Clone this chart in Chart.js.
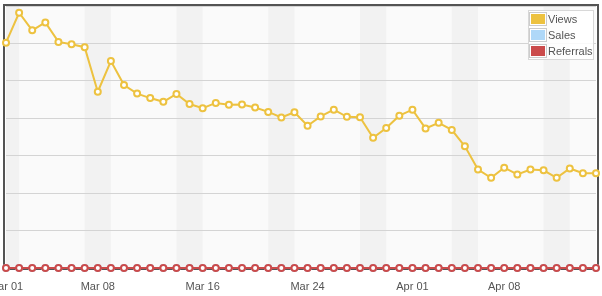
<!DOCTYPE html>
<html>
<head>
<meta charset="utf-8">
<script src="https://cdn.jsdelivr.net/npm/chart.js@4/dist/chart.umd.min.js"></script>
<style>
  html, body { margin: 0; padding: 0; background: #fff; }
  #wrap { position: relative; width: 602px; height: 296px; }
  #legend {
    position: absolute; left: 528px; top: 10px;
    border: 1px solid #d8d8d8; background: rgba(255,255,255,0.85);
    font: 11px "Liberation Sans", Arial, sans-serif; color: #545454;
    border-collapse: collapse;
  }
  #legend td { padding: 0; height: 16px; line-height: 16px; }
  .swatch { border: 1px solid #ccc; padding: 1px; width: 14px; height: 10px; margin-right: 1px; }
  .swatch div { width: 14px; height: 10px; }
</style>
</head>
<body>
<div id="wrap">
  <canvas id="chart" width="602" height="296"></canvas>
  <table id="legend"></table>
</div>
<script>
// ── Data ──────────────────────────────────────────────────────────────────
const START_DATE = "2015-03-01";
const DAY_COUNT  = 46;
const tickLabels = ["Mar 01", "Mar 08", "Mar 16", "Mar 24", "Apr 01", "Apr 08"];

const seriesNames  = ["Views", "Sales", "Referrals"];
const seriesColors = ["#edc240", "#afd8f8", "#cb4b4b"];

const views = [
  602, 682, 635, 656, 604, 598, 590, 471, 553, 489,
  466, 454, 444, 465, 438, 427, 441, 436, 437, 429,
  417, 402, 416, 380, 405, 423, 404, 403, 348, 374,
  407, 423, 373, 388, 369, 325, 263, 241, 268, 250,
  263, 261, 241, 266, 253, 253
];
const sales = [
  0, 0, 0, 0, 0, 0, 0, 0, 0, 0, 0, 0, 0, 0, 0, 0, 0, 0, 0, 0, 0, 0, 0,
  0, 0, 0, 0, 0, 0, 0, 0, 0, 0, 0, 0, 0, 0, 0, 0, 0, 0, 0, 0, 0, 0, 0
];
const referrals = [
  0, 0, 0, 0, 0, 0, 0, 0, 0, 0, 0, 0, 0, 0, 0, 0, 0, 0, 0, 0, 0, 0, 0,
  0, 0, 0, 0, 0, 0, 0, 0, 0, 0, 0, 0, 0, 0, 0, 0, 0, 0, 0, 0, 0, 0, 0
];

const Y_MAX  = 700;
const Y_STEP = 100;

// ── Day labels + weekend indices ─────────────────────────────────────────
const MONTHS = ["Jan","Feb","Mar","Apr","May","Jun","Jul","Aug","Sep","Oct","Nov","Dec"];
const days = [];
const saturdays = [];
{
  const d0 = new Date(START_DATE + "T00:00:00Z");
  for (let i = -1; i < DAY_COUNT; i++) {
    const d = new Date(d0.getTime() + i * 86400000);
    if (d.getUTCDay() === 6) saturdays.push(i);
    if (i >= 0) days.push(MONTHS[d.getUTCMonth()] + " " + String(d.getUTCDate()).padStart(2, "0"));
  }
}

// ── Legend ───────────────────────────────────────────────────────────────
document.getElementById("legend").innerHTML = seriesNames.map((n, i) => `
  <tr><td><div class="swatch"><div style="background:${seriesColors[i]}"></div></div></td>
  <td>${n}</td></tr>`).join("");

// ── Plot background, weekend bands, frame ────────────────────────────────
const plotDecor = {
  id: "plotDecor",
  beforeDraw(chart) {
    const { ctx, chartArea: ca, scales: { x } } = chart;
    ctx.save();
    ctx.fillStyle = "#fafafa";
    ctx.fillRect(ca.left, ca.top, ca.width, ca.height);
    ctx.fillStyle = "#f2f2f2";
    const step = x.getPixelForValue(1) - x.getPixelForValue(0);
    saturdays.forEach(i => {
      const x0 = Math.max(ca.left, x.getPixelForValue(0) + i * step);
      const x1 = Math.min(ca.right, x.getPixelForValue(0) + (i + 2) * step);
      if (x1 > x0) ctx.fillRect(x0, ca.top, x1 - x0, ca.height);
    });
    ctx.restore();
  },
  beforeDatasetsDraw(chart) {
    const { ctx, chartArea: ca } = chart;
    ctx.save();
    ctx.strokeStyle = "#545454";
    ctx.lineWidth = 2;
    ctx.strokeRect(ca.left - 2, ca.top - 1, ca.width + 4, ca.height + 2);
    ctx.restore();
  }
};

function lineSet(label, data, color, order) {
  return {
    label, data, order,
    borderColor: color,
    borderWidth: 2,
    pointRadius: 3,
    pointBorderWidth: 2,
    pointBackgroundColor: "#ffffff",
    pointBorderColor: color,
    tension: 0,
    clip: false
  };
}

new Chart(document.getElementById("chart"), {
  type: "line",
  data: {
    labels: days,
    datasets: [
      lineSet(seriesNames[0], views,     seriesColors[0], 2),
      lineSet(seriesNames[1], sales,     seriesColors[1], 1),
      lineSet(seriesNames[2], referrals, seriesColors[2], 0)
    ]
  },
  options: {
    responsive: false,
    animation: false,
    layout: { padding: { left: 3, right: 5, top: 5, bottom: 0 } },
    plugins: { legend: { display: false }, tooltip: { enabled: false } },
    scales: {
      x: {
        offset: false,
        grid: { display: false, drawTicks: false },
        border: { display: false },
        afterFit(scale) {
          scale.height = 28;
          scale.paddingLeft = 0;
          scale.paddingRight = 0;
        },
        ticks: {
          autoSkip: false,
          maxRotation: 0,
          padding: 12,
          color: "#545454",
          font: { family: "'Liberation Sans', Arial, sans-serif", size: 11 },
          callback(v) { const l = days[v]; return tickLabels.includes(l) ? l : ""; }
        }
      },
      y: {
        min: 0, max: Y_MAX,
        ticks: { display: false, stepSize: Y_STEP },
        grid: { color: "#d4d4d4", drawTicks: false },
        border: { display: false }
      }
    }
  },
  plugins: [plotDecor]
});
</script>
</body>
</html>
